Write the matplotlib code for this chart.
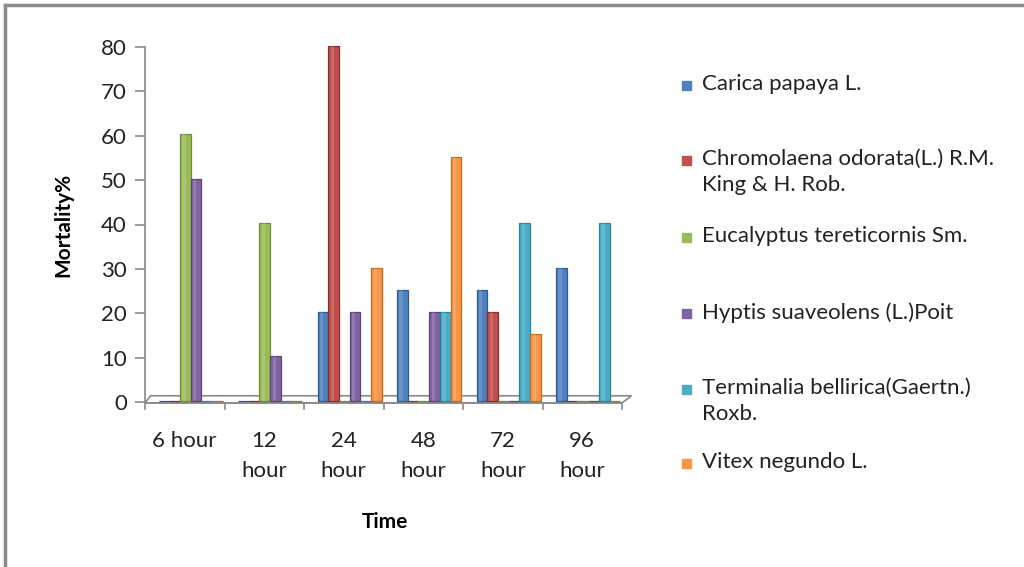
import matplotlib.pyplot as plt
from matplotlib.patches import Polygon, Rectangle

times = ["6 hour", "12\nhour", "24\nhour", "48\nhour", "72\nhour", "96\nhour"]
species = ["Carica papaya L.",
           "Chromolaena odorata(L.) R.M.\nKing & H. Rob.",
           "Eucalyptus tereticornis Sm.",
           "Hyptis suaveolens (L.)Poit",
           "Terminalia bellirica(Gaertn.)\nRoxb.",
           "Vitex negundo L."]
carica = [0, 0, 20, 25, 25, 30]
chromolaena = [0, 0, 80, 0, 20, 0]
eucalyptus = [60, 40, 0, 0, 0, 0]
hyptis = [50, 10, 20, 20, 0, 0]
terminalia = [0, 0, 0, 20, 40, 40]
vitex = [0, 0, 30, 55, 15, 0]

series = [carica, chromolaena, eucalyptus, hyptis, terminalia, vitex]
colors = ["#4F81BD", "#C0504D", "#9BBB59", "#8064A2", "#4BACC6", "#F79646"]
edges = ["#2C5C95", "#8E2B28", "#6F8C33", "#5A4379", "#26839C", "#C4691B"]

plt.rcParams['font.family'] = ['Lato', 'DejaVu Sans']

fig = plt.figure(figsize=(10.24, 5.67), dpi=100)
ax = fig.add_axes([145/1024, 1-402/567, 477/1024, 355/567])
ax.set_xlim(0, 6)
ax.set_ylim(0, 80)

# frame around the picture (left and top only)
fig.add_artist(plt.Line2D([5/1024, 5/1024], [0, 1-5/567], color="#8a8a8a", lw=2.5, transform=fig.transFigure))
fig.add_artist(plt.Line2D([5/1024, 1], [1-5/567, 1-5/567], color="#8a8a8a", lw=2.5, transform=fig.transFigure))

# floor of the 3d chart
floor = Polygon([(0, -0.2), (6, -0.2), (6.12, 1.4), (0.07, 1.4)], closed=True,
                facecolor="white", edgecolor="#8a8a8a", lw=1.2, clip_on=False, zorder=1)
ax.add_patch(floor)

w = 0.135
start = 0.17
for k, (vals, c, ec) in enumerate(zip(series, colors, edges)):
    xs = [i + start + k * w + w / 2 for i in range(len(times))]
    ax.bar(xs, vals, width=w, bottom=0.3, color=c, edgecolor=ec, lw=0.9, zorder=3, clip_on=False)
    # light stripe for cylinder look
    ax.bar([x - w * 0.12 for x in xs], vals, width=w * 0.3, bottom=0.3, color="white",
           alpha=0.15, lw=0, zorder=4, clip_on=False)

for s in ["top", "right", "bottom"]:
    ax.spines[s].set_visible(False)
ax.spines["left"].set_color("#8a8a8a")
ax.spines["left"].set_linewidth(1.2)

ax.set_yticks(range(0, 81, 10))
ax.tick_params(axis="y", colors="#8a8a8a", labelcolor="#222222", labelsize=16, length=7, width=1.2, pad=6)
ax.set_xticks([])
ax.plot([0, 6], [-0.2, -0.2], color="#8a8a8a", lw=1.2, clip_on=False, zorder=2)
for i in range(7):
    ax.plot([i, i], [-0.2, -1.6], color="#8a8a8a", lw=1.2, clip_on=False)
for i, t in enumerate(times):
    ax.text(i + 0.5, -6.5, t, ha="center", va="top", fontsize=16, color="#222222", linespacing=1.65)

ax.set_ylabel("Mortality%", fontsize=15, fontweight="bold", labelpad=20)
fig.text(385/1024, 1-522/567, "Time", ha="center", va="center", fontsize=15, fontweight="bold")

# legend
ys = [85, 160, 237, 313, 389, 463]
for name, c, y in zip(species, colors, ys):
    fig.add_artist(Rectangle((682/1024, 1-(y+5)/567), 9/1024, 9/567, color=c, transform=fig.transFigure))
    fig.text(702/1024, 1-(y-11)/567, name, ha="left", va="top", fontsize=16, color="#222222", linespacing=1.4)

fig.savefig("out.png", dpi=100)
